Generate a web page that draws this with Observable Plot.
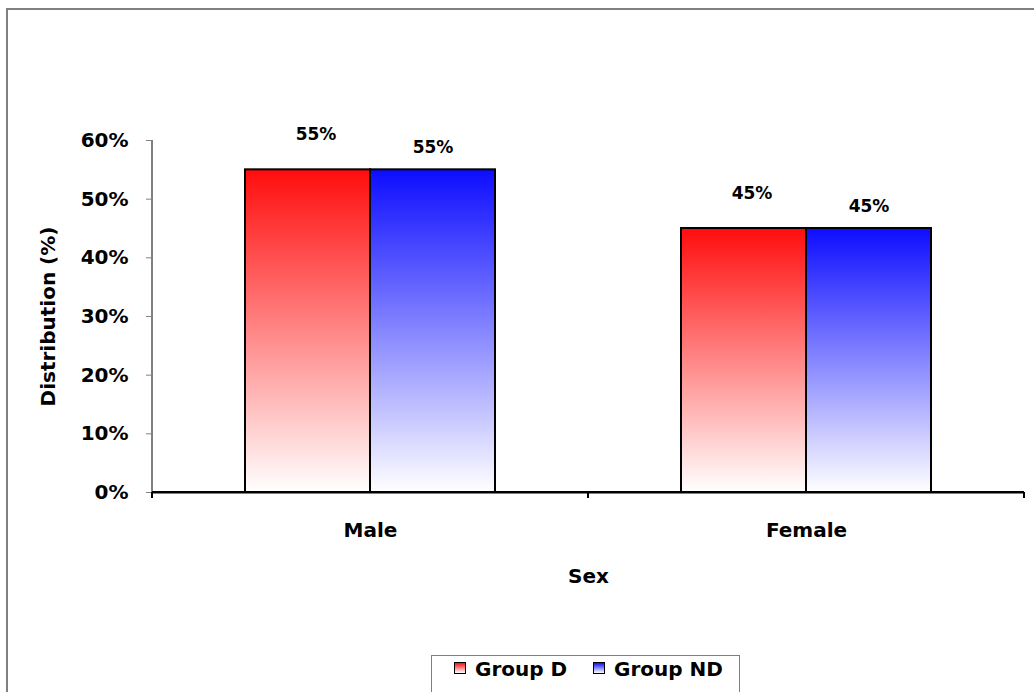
<!DOCTYPE html>
<html>
<head>
<meta charset="utf-8">
<script src="https://cdn.jsdelivr.net/npm/d3@7"></script>
<script src="https://cdn.jsdelivr.net/npm/@observablehq/plot@0.6"></script>
<style>
  body { margin: 0; background: #fff; font-family: "DejaVu Sans", Arial, sans-serif; }
  #wrap { position: relative; width: 1034px; height: 692px; overflow: hidden; background: #fff; }
  #frame { position: absolute; left: 6px; top: 8px; width: 1200px; height: 900px;
           border-left: 2px solid #808080; border-top: 2px solid #808080; }
  #chart { position: absolute; left: 0; top: 0; }
  #legend { position: absolute; left: 431px; top: 655px; width: 309px; height: 60px;
            border: 1.5px solid #808080; background: #fff; box-sizing: border-box; }
  .item { position: absolute; top: 1px; display: flex; align-items: center;
          font-weight: bold; font-size: 20px; color: #000; }
  .sw { width: 10px; height: 10px; border: 1.5px solid #000; margin-right: 9px; margin-top: -2px; }
</style>
</head>
<body>
<div id="wrap">
  <div id="frame"></div>
  <div id="chart"></div>
  <div id="legend"></div>
</div>
<script>
const categories = ["Male", "Female"];
const groups = ["Group D", "Group ND"];
const groupD = [0.55, 0.45];
const groupND = [0.55, 0.45];
const yTicks = [0, 0.1, 0.2, 0.3, 0.4, 0.5, 0.6];
const groupColors = ["#ff0d0d", "#0d0dff"];
const gradIds = ["gradD", "gradND"];

const data = categories.flatMap((sex, i) => [
  {sex, group: groups[0], value: groupD[i]},
  {sex, group: groups[1], value: groupND[i]}
]);
const pct = d3.format(".0%");
const font = "'DejaVu Sans', Arial, sans-serif";

const plot = Plot.plot({
  width: 1034,
  height: 600,
  marginLeft: 152,
  marginRight: 10,
  marginTop: 140,
  marginBottom: 108,
  style: {fontFamily: font, fontWeight: "bold", color: "#000", background: "transparent", overflow: "visible"},
  fx: {domain: categories, padding: 0},
  x: {domain: groups, paddingInner: 0, paddingOuter: 0.744, axis: null},
  y: {domain: [0, 0.6]},
  color: {domain: groups, range: gradIds.map(id => `url(#${id})`)},
  marks: [
    Plot.axisY({ticks: yTicks, tickFormat: pct, tickSize: 6, tickPadding: 18, stroke: "#808080", fill: "#000",
                fontSize: 20, fontWeight: "bold", label: "Distribution (%)", labelArrow: "none",
                labelAnchor: "center", labelOffset: 112}),
    Plot.axisFx({anchor: "bottom", tickSize: 0, tickPadding: 30, fontSize: 20, fontWeight: "bold", fill: "#000",
                 label: "Sex", labelArrow: "none", labelAnchor: "center", labelOffset: 90}),
    Plot.barY(data, {fx: "sex", x: "group", y: "value", fill: "group", stroke: "#000", strokeWidth: 2}),
    Plot.ruleY([0], {stroke: "#000", strokeWidth: 2}),
    Plot.text(data.filter(d => d.group === groups[0]),
      {fx: "sex", x: "group", y: "value", text: d => pct(d.value), dy: -35, dx: 8, fontSize: 17, fontWeight: "bold", fill: "#000"}),
    Plot.text(data.filter(d => d.group === groups[1]),
      {fx: "sex", x: "group", y: "value", text: d => pct(d.value), dy: -22, fontSize: 17, fontWeight: "bold", fill: "#000"})
  ]
});

// gradients
const svg = d3.select(plot);
const defs = svg.insert("defs", ":first-child");
gradIds.forEach((id, i) => {
  const g = defs.append("linearGradient").attr("id", id).attr("x1", 0).attr("y1", 0).attr("x2", 0).attr("y2", 1);
  g.append("stop").attr("offset", "0%").attr("stop-color", groupColors[i]);
  g.append("stop").attr("offset", "100%").attr("stop-color", "#ffffff");
});

// axis line and category boundary ticks, from the plot's own scales
const fxs = plot.scale("fx");
const ys = plot.scale("y");
const band = d3.scaleBand().domain(fxs.domain).range(fxs.range).padding(0);
const edges = [...fxs.domain.map(d => band(d)), band(fxs.domain[fxs.domain.length - 1]) + band.bandwidth()];
const y0 = ys.apply(0), yTop = ys.apply(yTicks[yTicks.length - 1]);
const deco = svg.append("g");
deco.append("line").attr("x1", edges[0]).attr("x2", edges[0]).attr("y1", yTop).attr("y2", y0 + 6)
  .attr("stroke", "#808080").attr("stroke-width", 2);
edges.forEach(x => {
  deco.append("line").attr("x1", x).attr("x2", x).attr("y1", y0).attr("y2", y0 + 6)
    .attr("stroke", "#000").attr("stroke-width", 2);
});
deco.append("line").attr("x1", edges[0]).attr("x2", edges[edges.length - 1]).attr("y1", y0).attr("y2", y0)
  .attr("stroke", "#000").attr("stroke-width", 2);

document.getElementById("chart").appendChild(plot);

// legend
const legend = d3.select("#legend");
const legendX = [22, 161];
groups.forEach((g, i) => {
  const item = legend.append("div").attr("class", "item").style("left", legendX[i] + "px");
  item.append("div").attr("class", "sw").style("background", `linear-gradient(${groupColors[i]}, #fff)`);
  item.append("span").text(g);
});
</script>
</body>
</html>
